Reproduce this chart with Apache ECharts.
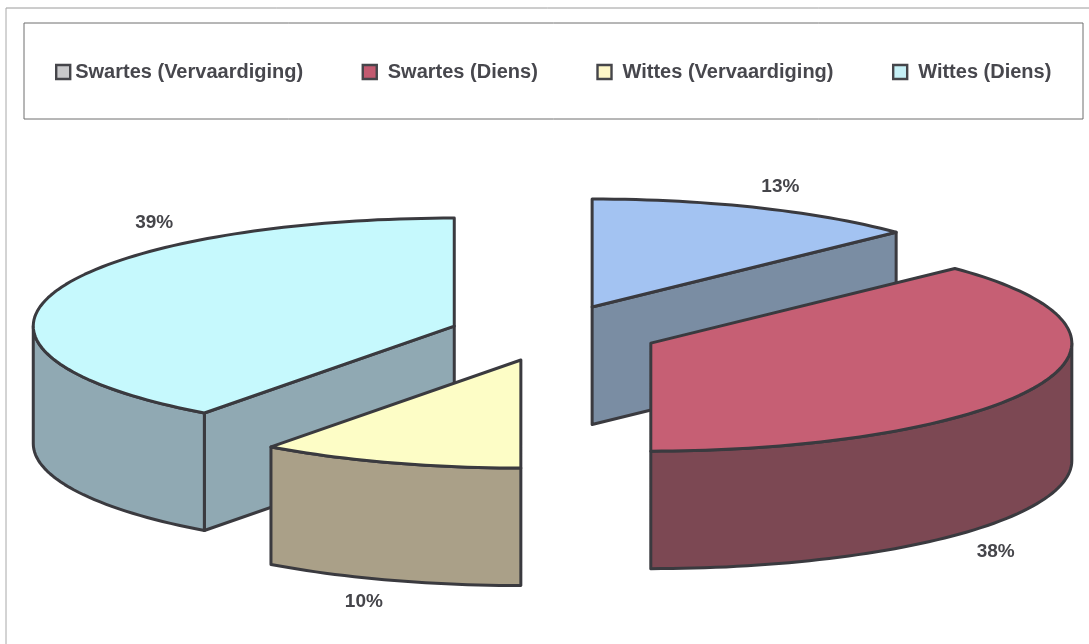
<!DOCTYPE html>
<html>
<head>
<meta charset="utf-8">
<style>html,body{margin:0;padding:0;background:#fff}#chart{width:1089px;height:644px}</style>
<script src="https://cdn.jsdelivr.net/npm/echarts@6/dist/echarts.min.js"></script>
</head>
<body>
<div id="chart"></div>
<script>
// Workforce shares by group and sector, in percent
const categories = ['Swartes (Vervaardiging)', 'Swartes (Diens)', 'Wittes (Vervaardiging)', 'Wittes (Diens)'];
const shares = [13, 38, 10, 39];

const legendColors = ['#c9c9cb', '#c25a70', '#fdf6c8', '#c6f0f6'];
const topColors = ['#a3c3f2', '#c65f74', '#fdfdc6', '#c6f9fd'];
const wallColors = ['#7a8da3', '#7c4853', '#aaa088', '#90a9b3'];

// Drawing order: the far slices first so the near ones overlap them
const layers = [1, 2, 3, 1];

// Projection of the exploded pie
const CX = 554, CY = 332.5;
const RX = 421, RY = 108, DEPTH = 117.5;
const FORESHORTEN = 1.8;
const INK = '#3a3a3f';

// How far each slice is pulled out of the pie, across and along the view
const explodeX = [96, 107, 90, 106];
const explodeY = [27.8, 25, 29.6, 19];

// Label placement relative to each slice's rim point at its mid-angle
const labelNudge = [[21, -21], [-36, 163], [-2, 141], [96, -67]];

const rad = d => d * Math.PI / 180;
// Far side of the disc is slightly compressed by the viewing perspective
const warp = deg => deg - FORESHORTEN * (1 - Math.cos(rad(deg)));
const onRim = (apex, deg, drop) => [
  apex[0] + RX * Math.sin(rad(deg)),
  apex[1] - RY * Math.cos(rad(deg)) + drop
];
function arc(apex, from, to, drop) {
  const pts = [];
  const steps = Math.max(2, Math.ceil(Math.abs(to - from) / 1.5));
  for (let i = 0; i <= steps; i++) pts.push(onRim(apex, from + (to - from) * i / steps, drop));
  return pts;
}

const total = shares.reduce((a, b) => a + b, 0);
let running = 0;
const spans = shares.map(v => {
  const start = running / total * 360;
  running += v;
  return [start, running / total * 360];
});

function sliceRenderer(idx) {
  return function (params, api) {
    const value = api.value(0);
    const a0 = warp(spans[idx][0]);
    const a1 = warp(spans[idx][1]);
    const mid = (spans[idx][0] + spans[idx][1]) / 2;
    const apex = [
      CX + explodeX[idx] * Math.sin(rad(mid)),
      CY - explodeY[idx] * Math.cos(rad(mid))
    ];
    const stroke = { stroke: INK, lineWidth: 3, lineJoin: 'round' };
    const wall = Object.assign({ fill: wallColors[idx] }, stroke);
    const top = Object.assign({ fill: topColors[idx] }, stroke);
    const children = [];
    const poly = (points, style) => children.push({ type: 'polygon', shape: { points }, style, silent: true });

    // Cut faces that turn towards the viewer
    if (Math.sin(rad(a1)) > 0.01) {
      const r = onRim(apex, a1, 0);
      poly([apex, r, [r[0], r[1] + DEPTH], [apex[0], apex[1] + DEPTH]], wall);
    }
    if (Math.sin(rad(a0)) < -0.01) {
      const r = onRim(apex, a0, 0);
      poly([apex, r, [r[0], r[1] + DEPTH], [apex[0], apex[1] + DEPTH]], wall);
    }
    // Outer wall on the near half of the rim
    const lo = Math.max(a0, 90), hi = Math.min(a1, 270);
    if (hi > lo) {
      poly(arc(apex, lo, hi, 0).concat(arc(apex, hi, lo, DEPTH)), wall);
    }
    // Top face
    poly([apex].concat(arc(apex, a0, a1, 0)), top);

    const rim = onRim(apex, mid, 0);
    children.push({
      type: 'text',
      silent: true,
      style: {
        x: rim[0] + labelNudge[idx][0],
        y: rim[1] + labelNudge[idx][1],
        text: value + '%',
        fill: '#45454a',
        font: 'bold 19px "Liberation Sans", Arial, sans-serif',
        align: 'center',
        verticalAlign: 'middle'
      }
    });
    return { type: 'group', children };
  };
}

const chart = echarts.init(document.getElementById('chart'), null, { renderer: 'canvas' });
chart.setOption({
  animation: false,
  backgroundColor: '#ffffff',
  legend: {
    left: 55,
    top: 62,
    padding: 0,
    itemWidth: 14,
    itemHeight: 14,
    itemGap: 58.5,
    icon: 'rect',
    selectedMode: false,
    textStyle: { color: '#47474d', fontSize: 20, fontWeight: 'bold', fontFamily: '"Liberation Sans", Arial, sans-serif' },
    data: categories.map((name, i) => ({
      name,
      itemStyle: { color: legendColors[i], borderColor: '#45454a', borderWidth: 2.4 },
      textStyle: { padding: [0, 0, 0, i === 0 ? 0 : 6] }
    }))
  },
  graphic: [
    { type: 'line', silent: true, shape: { x1: 6, y1: 8, x2: 1089, y2: 8 }, style: { stroke: '#9a9a9a', lineWidth: 1 } },
    { type: 'line', silent: true, shape: { x1: 6, y1: 8, x2: 6, y2: 644 }, style: { stroke: '#a8a8a8', lineWidth: 1 } },
    { type: 'rect', silent: true, shape: { x: 24, y: 23, width: 1059, height: 96 }, style: { fill: 'none', stroke: '#6f6f6f', lineWidth: 1 } }
  ],
  series: categories.map((name, i) => ({
    type: 'custom',
    name,
    coordinateSystem: 'none',
    z: layers[i] + 2,
    clip: false,
    silent: true,
    data: [[shares[i]]],
    encode: { value: 0 },
    renderItem: sliceRenderer(i)
  }))
});
</script>
</body>
</html>
